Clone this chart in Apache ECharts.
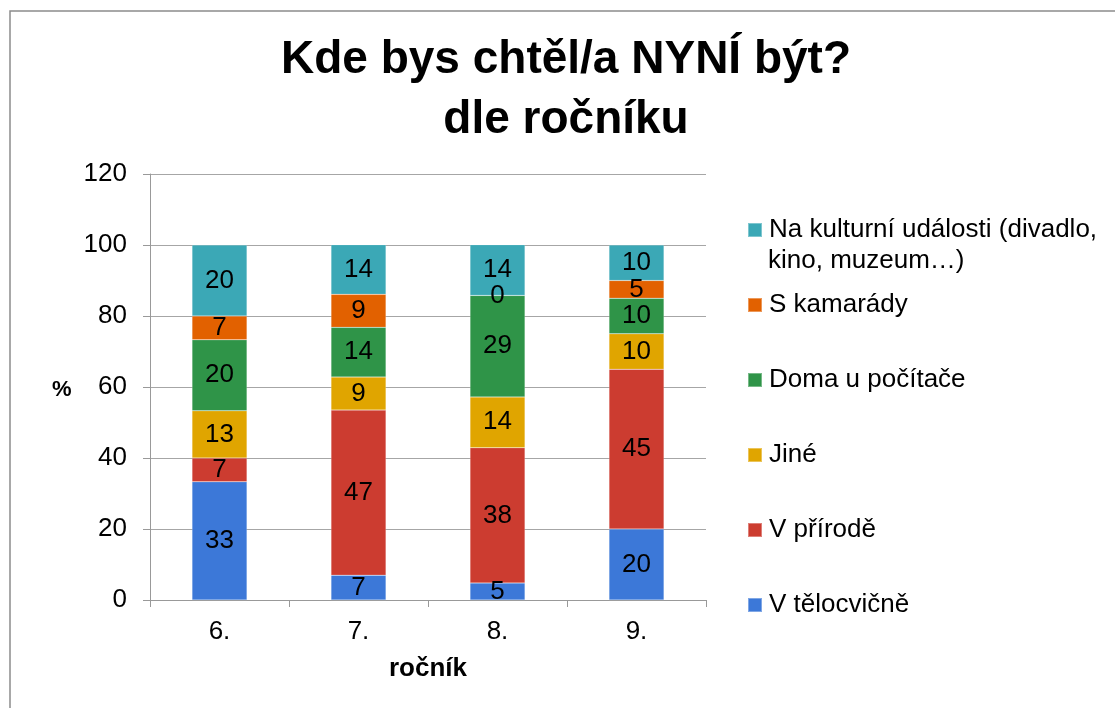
<!DOCTYPE html>
<html>
<head>
<meta charset="utf-8">
<script src="https://cdn.jsdelivr.net/npm/echarts@6/dist/echarts.min.js"></script>
<style>
html,body{margin:0;padding:0;background:#fff;}
#chart{width:1115px;height:708px;}
</style>
</head>
<body>
<div id="chart"></div>
<script>
const categories = ['6.', '7.', '8.', '9.'];
const seriesNames = ['V tělocvičně', 'V přírodě', 'Jiné', 'Doma u počítače', 'S kamarády', 'Na kulturní události (divadlo, kino, muzeum…)'];
const vTelocvicne = [33.3, 7.0, 4.8, 20];
const vPrirode = [6.7, 46.5, 38.1, 45];
const jine = [13.3, 9.3, 14.3, 10];
const domaUPocitace = [20, 14.0, 28.6, 10];
const sKamarady = [6.7, 9.3, 0, 5];
const naKulturni = [20, 14.0, 14.3, 10];
const yTicks = [0, 20, 40, 60, 80, 100, 120];

const seriesData = [vTelocvicne, vPrirode, jine, domaUPocitace, sKamarady, naKulturni];
const colors = ['#3C78D8', '#CC3C30', '#E0A500', '#2F9448', '#E26100', '#3BA8B6'];
const legendCenters = [605, 530, 455, 380, 305, 230];
const FONT = '"Liberation Sans", Arial, sans-serif';
const LEG_LH = 30;

const chart = echarts.init(document.getElementById('chart'), null, {renderer: 'canvas'});

const legends = seriesNames.map((name, i) => ({
  data: [name],
  orient: 'vertical',
  left: 747,
  top: legendCenters[i] - LEG_LH / 2,
  padding: 0,
  itemWidth: 14,
  itemHeight: 14,
  itemGap: 0,
  icon: 'rect',
  selectedMode: false,
  textStyle: {fontFamily: FONT, fontSize: 26, color: '#000', lineHeight: LEG_LH, padding: [0, 0, 0, 2]},
  formatter: n => n.indexOf('Na kulturní') === 0 ? 'Na kulturní události (divadlo,' : n
}));

const option = {
  backgroundColor: '#fff',
  animation: false,
  title: {
    text: 'Kde bys chtěl/a NYNÍ být?\ndle ročníku',
    left: 566,
    textAlign: 'center',
    top: 30,
    padding: 0,
    textStyle: {fontFamily: FONT, fontSize: 46, fontWeight: 'bold', color: '#000', lineHeight: 60}
  },
  legend: legends,
  graphic: [
    {type: 'rect', shape: {x: 10, y: 11, width: 1200, height: 800}, style: {fill: 'none', stroke: '#8c8c8c', lineWidth: 1.5}, silent: true},
    {type: 'text', x: 768, y: 261, style: {text: 'kino, muzeum…)', font: '26px ' + FONT, fill: '#000', verticalAlign: 'middle'}},
    {type: 'text', x: 52, y: 390, style: {text: '%', font: 'bold 22px ' + FONT, fill: '#000', verticalAlign: 'middle'}}
  ],
  grid: {left: 150, right: 409, top: 174, bottom: 108, containLabel: false},
  xAxis: {
    type: 'category',
    data: categories,
    name: 'ročník',
    nameLocation: 'middle',
    nameGap: 56,
    nameTextStyle: {fontFamily: FONT, fontSize: 26, fontWeight: 'bold', color: '#000'},
    axisLine: {lineStyle: {color: '#999', width: 1}},
    axisTick: {show: true, length: 7, lineStyle: {color: '#999'}},
    axisLabel: {fontFamily: FONT, fontSize: 26, color: '#000', margin: 19}
  },
  yAxis: {
    type: 'value',
    min: 0,
    max: 120,
    interval: 20,
    axisLine: {show: true, lineStyle: {color: '#999', width: 1}},
    axisTick: {show: true, length: 7, lineStyle: {color: '#999'}},
    axisLabel: {fontFamily: FONT, fontSize: 26, color: '#000', margin: 23,
      formatter: v => yTicks.indexOf(v) >= 0 ? String(v) : ''},
    splitLine: {show: true, lineStyle: {color: '#a6a6a6', width: 1}}
  },
  series: seriesNames.map((name, i) => ({
    name: name,
    type: 'bar',
    stack: 'total',
    barWidth: 55,
    data: seriesData[i],
    itemStyle: {color: colors[i], borderColor: 'rgba(255,255,255,0.35)', borderWidth: 0.5},
    label: {
      show: true,
      position: 'inside',
      fontFamily: FONT,
      fontSize: 26,
      color: '#000',
      textBorderWidth: 0,
      formatter: p => String(Math.round(p.value))
    }
  }))
};
chart.setOption(option);
</script>
</body>
</html>
